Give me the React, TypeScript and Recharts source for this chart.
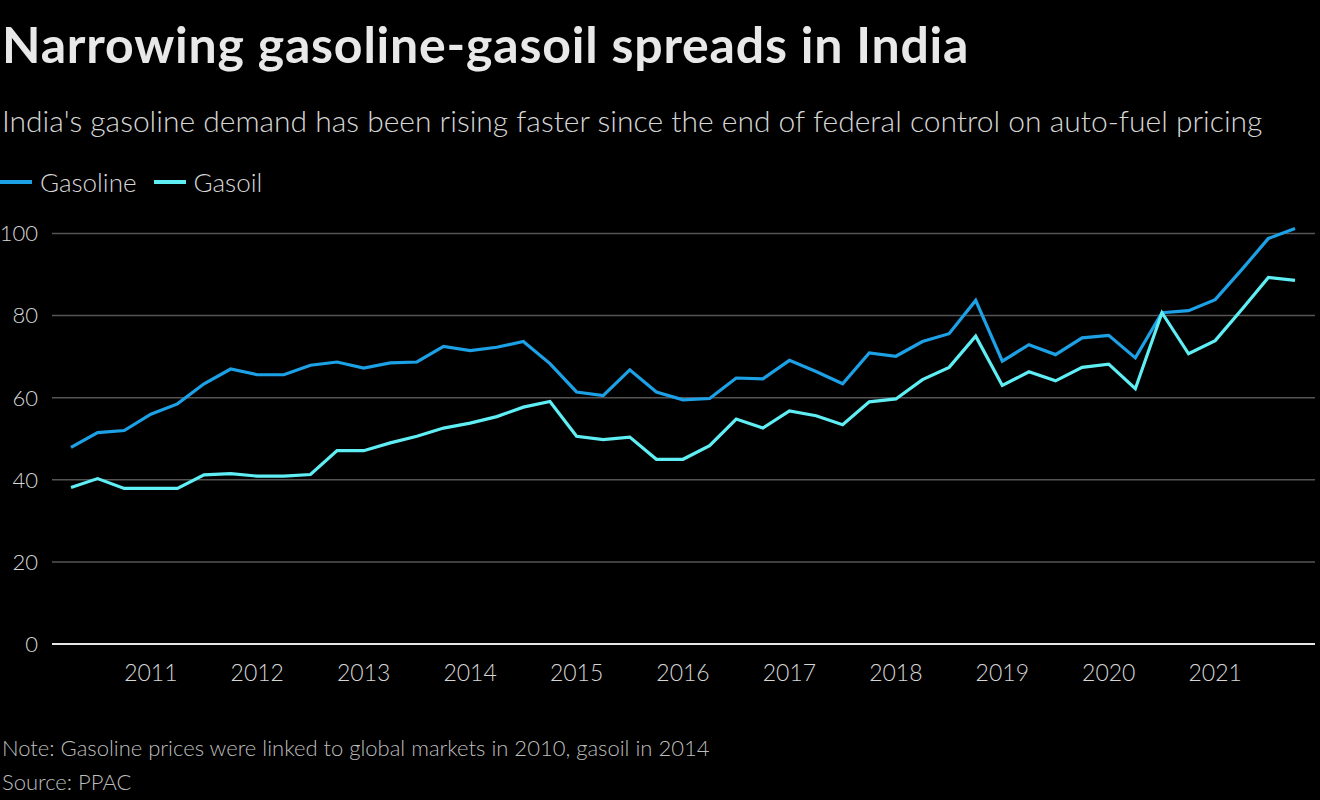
import React from "react";
import { LineChart, Line, XAxis, YAxis, CartesianGrid } from "recharts";

const quarters: string[] = [
  "2010 Q2", "2010 Q3", "2010 Q4",
  "2011 Q1", "2011 Q2", "2011 Q3", "2011 Q4",
  "2012 Q1", "2012 Q2", "2012 Q3", "2012 Q4",
  "2013 Q1", "2013 Q2", "2013 Q3", "2013 Q4",
  "2014 Q1", "2014 Q2", "2014 Q3", "2014 Q4",
  "2015 Q1", "2015 Q2", "2015 Q3", "2015 Q4",
  "2016 Q1", "2016 Q2", "2016 Q3", "2016 Q4",
  "2017 Q1", "2017 Q2", "2017 Q3", "2017 Q4",
  "2018 Q1", "2018 Q2", "2018 Q3", "2018 Q4",
  "2019 Q1", "2019 Q2", "2019 Q3", "2019 Q4",
  "2020 Q1", "2020 Q2", "2020 Q3", "2020 Q4",
  "2021 Q1", "2021 Q2", "2021 Q3", "2021 Q4",
];

const gasoline: number[] = [
  47.9, 51.5, 52.0,
  56.0, 58.5, 63.4, 67.0,
  65.6, 65.6, 67.9, 68.7,
  67.2, 68.5, 68.7, 72.5,
  71.5, 72.3, 73.7, 68.3,
  61.4, 60.5, 66.8, 61.4,
  59.5, 59.8, 64.8, 64.6,
  69.1, 66.4, 63.4, 70.9,
  70.1, 73.7, 75.6, 83.7,
  68.9, 72.9, 70.5, 74.6,
  75.2, 69.7, 80.7, 81.2,
  83.9, 91.2, 98.8, 101.2,
];

const gasoil: number[] = [
  38.1, 40.3, 37.9,
  37.9, 37.9, 41.2, 41.5,
  40.9, 40.9, 41.3, 47.1,
  47.1, 49.0, 50.6, 52.6,
  53.8, 55.4, 57.7, 59.1,
  50.6, 49.8, 50.4, 45.0,
  45.0, 48.3, 54.8, 52.6,
  56.8, 55.6, 53.4, 59.0,
  59.7, 64.4, 67.4, 75.0,
  63.0, 66.3, 64.1, 67.4,
  68.2, 62.2, 80.7, 70.7,
  73.9, 81.5, 89.3, 88.6,
];

const xTicks: string[] = [
  "2011 Q1", "2012 Q1", "2013 Q1", "2014 Q1", "2015 Q1", "2016 Q1",
  "2017 Q1", "2018 Q1", "2019 Q1", "2020 Q1", "2021 Q1",
];
const yTicks: number[] = [0, 20, 40, 60, 80, 100];

const series = [
  { key: "gasoline", name: "Gasoline", color: "#1DA1E6" },
  { key: "gasoil", name: "Gasoil", color: "#5FEEF3" },
];

const title = "Narrowing gasoline-gasoil spreads in India";
const subtitle =
  "India's gasoline demand has been rising faster since the end of federal control on auto-fuel pricing";
const note = "Note: Gasoline prices were linked to global markets in 2010, gasoil in 2014";
const source = "Source: PPAC";

const data = quarters.map((q, i) => ({ q, gasoline: gasoline[i], gasoil: gasoil[i] }));

const FONT = "Lato, 'Open Sans', sans-serif";

export default function App() {
  return (
    <div
      style={{
        position: "absolute",
        left: 0,
        top: 0,
        width: 1320,
        height: 800,
        background: "#000",
        overflow: "hidden",
        fontFamily: FONT,
      }}
    >
      <div
        style={{
          position: "absolute",
          left: 2,
          top: 13,
          fontSize: 50,
          letterSpacing: 0.8,
          fontWeight: 700,
          color: "#e8e8e8",
          whiteSpace: "nowrap",
          lineHeight: "62px",
        }}
      >
        {title}
      </div>
      <div
        style={{
          position: "absolute",
          left: 2,
          top: 101,
          fontSize: 30,
          fontWeight: 300,
          color: "#d6d6d6",
          whiteSpace: "nowrap",
          lineHeight: "38px",
        }}
      >
        {subtitle}
      </div>
      <div
        style={{
          position: "absolute",
          left: 0,
          top: 165,
          display: "flex",
          alignItems: "center",
          fontSize: 26,
          fontWeight: 300,
          color: "#d6d6d6",
          whiteSpace: "nowrap",
          lineHeight: "34px",
        }}
      >
        {series.map((s) => (
          <div key={s.key} style={{ display: "flex", alignItems: "center", marginRight: 17 }}>
            <div style={{ width: 32, height: 4, background: s.color, marginRight: 8 }} />
            <span>{s.name}</span>
          </div>
        ))}
      </div>

      <div style={{ position: "absolute", left: 0, top: 0 }}>
        <LineChart
          width={1320}
          height={800}
          data={data}
          margin={{ top: 213, right: 5, bottom: 116, left: 0 }}
        >
          <CartesianGrid
            vertical={false}
            horizontalValues={yTicks}
            stroke="#555"
            strokeWidth={1.5}
          />
          <XAxis
            dataKey="q"
            ticks={xTicks}
            interval={0}
            tickFormatter={(v: string) => v.slice(0, 4)}
            padding={{ left: 19, right: 20 }}
            height={40}
            tickSize={0}
            tickMargin={21}
            axisLine={{ stroke: "#e6e6e6", strokeWidth: 2 }}
            tick={{ fill: "#d6d6d6", fontSize: 23, fontFamily: FONT, fontWeight: 300 }}
          />
          <YAxis
            domain={[0, 105]}
            ticks={yTicks}
            width={52}
            tickSize={0}
            tickMargin={14}
            axisLine={false}
            tick={{ fill: "#d6d6d6", fontSize: 22, fontFamily: FONT, fontWeight: 300 }}
          />
          {series.map((s) => (
            <Line
              key={s.key}
              dataKey={s.key}
              name={s.name}
              stroke={s.color}
              strokeWidth={3.2}
              dot={false}
              activeDot={false}
              type="linear"
              isAnimationActive={false}
            />
          ))}
        </LineChart>
      </div>

      <div
        style={{
          position: "absolute",
          left: 2,
          top: 733,
          fontSize: 22,
          fontWeight: 300,
          color: "#bdbdbd",
          whiteSpace: "nowrap",
          lineHeight: "30px",
        }}
      >
        <div>{note}</div>
        <div style={{ marginTop: 4 }}>{source}</div>
      </div>
    </div>
  );
}
